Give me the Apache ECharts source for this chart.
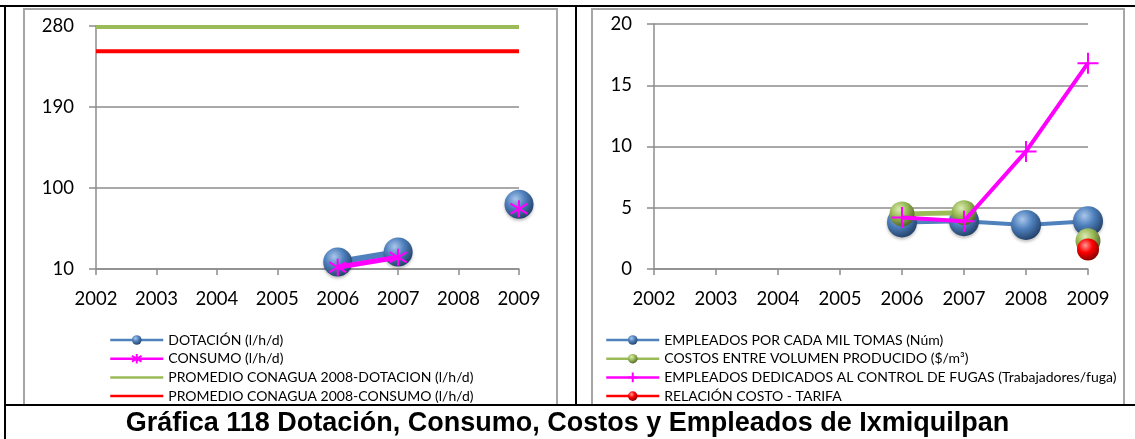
<!DOCTYPE html>
<html>
<head>
<meta charset="utf-8">
<script src="https://cdn.jsdelivr.net/npm/echarts@6/dist/echarts.min.js"></script>
<style>
html,body{margin:0;padding:0;background:#fff;}
#c{width:1135px;height:439px;}
</style>
</head>
<body>
<div id="c"></div>
<script>
// ---- data ----
const years = ['2002','2003','2004','2005','2006','2007','2008','2009'];
// left chart
const leftTicks = [10, 100, 190, 280];
const dotacion = [null, null, null, null, 17.8, 28.9, null, 82];
const consumo = [null, null, null, null, 12, 23, null, 77];
const promDotacion = [279, 279, 279, 279, 279, 279, 279, 279];
const promConsumo = [252, 252, 252, 252, 252, 252, 252, 252];
// right chart
const rightTicks = [0, 5, 10, 15, 20];
const empleadosMil = [null, null, null, null, 3.8, 3.9, 3.6, 3.9];
const costosVolumen = [null, null, null, null, 4.5, 4.6, null, 2.3];
const empleadosFugas = [null, null, null, null, 4.2, 3.9, 9.6, 16.8];
const relacionCosto = [null, null, null, null, null, null, null, 1.6];

const names = {
  dot: 'DOTACIÓN (l/h/d)',
  con: 'CONSUMO (l/h/d)',
  pd: 'PROMEDIO CONAGUA 2008-DOTACION (l/h/d)',
  pc: 'PROMEDIO CONAGUA 2008-CONSUMO (l/h/d)',
  em: 'EMPLEADOS POR CADA MIL TOMAS (Núm)',
  cv: 'COSTOS ENTRE VOLUMEN PRODUCIDO ($/m³)',
  ef: 'EMPLEADOS DEDICADOS AL CONTROL DE FUGAS (Trabajadores/fuga)',
  rc: 'RELACIÓN COSTO - TARIFA'
};

const chart = echarts.init(document.getElementById('c'), null, {renderer: 'canvas'});

function sphere(light, mid, dark) {
  return new echarts.graphic.RadialGradient(0.38, 0.32, 0.72, [
    {offset: 0, color: light},
    {offset: 0.45, color: mid},
    {offset: 1, color: dark}
  ]);
}
const blueSphere = sphere('#a9c6ea', '#4f81bd', '#213f66');
const greenSphere = sphere('#dcebb4', '#9bbb59', '#4f6228');
const redSphere = sphere('#ff9a9a', '#ff0000', '#800000');

const asterisk = 'path://M0,-1L0,1M-0.8,-0.6L0.8,0.6M-0.8,0.6L0.8,-0.6';
const plus = 'path://M0,-1L0,1M-1,0L1,0';

const labelFont = 'Lato, "Open Sans", sans-serif';
const gray = '#8c8c8c';

function xAxis(gi) {
  return {
    type: 'category', gridIndex: gi, data: years, boundaryGap: false,
    axisLine: {lineStyle: {color: gray, width: 1.5}},
    axisTick: {show: true, inside: false, length: 6, lineStyle: {color: gray, width: 1.5}},
    axisLabel: {color: '#000', fontSize: 18.5, fontFamily: labelFont, margin: 21},
    splitLine: {show: false}
  };
}
function yAxis(gi, min, max, interval) {
  return {
    type: 'value', gridIndex: gi, min: min, max: max, interval: interval,
    axisLine: {show: true, lineStyle: {color: gray, width: 1.5}},
    axisTick: {show: true, inside: false, length: 7, lineStyle: {color: gray, width: 1.5}},
    axisLabel: {color: '#000', fontSize: 18.5, fontFamily: labelFont, margin: 22},
    splitLine: {show: true, lineStyle: {color: gray, width: 1.5}}
  };
}
function legend(left, items) {
  return {
    orient: 'vertical', left: left, top: 333, padding: 0,
    itemWidth: 53, itemHeight: 12, itemGap: 4.7,
    textStyle: {fontSize: 14, lineHeight: 14, fontFamily: labelFont, color: '#000'},
    lineStyle: {width: 2.5},
    data: items,
    selectedMode: false
  };
}

const option = {
  animation: false,
  backgroundColor: '#fff',
  title: {
    text: 'Gráfica 118 Dotación, Consumo, Costos y Empleados de Ixmiquilpan',
    left: 'center', top: 405,
    textStyle: {fontFamily: '"Liberation Sans", Arial, sans-serif', fontWeight: 'bold', fontSize: 27, color: '#000'}
  },
  grid: [
    {left: 96, right: 616, top: 26, bottom: 170},
    {left: 654, right: 47, top: 24, bottom: 170}
  ],
  xAxis: [xAxis(0), xAxis(1)],
  yAxis: [yAxis(0, leftTicks[0], leftTicks[leftTicks.length - 1], leftTicks[1] - leftTicks[0]),
          yAxis(1, rightTicks[0], rightTicks[rightTicks.length - 1], rightTicks[1] - rightTicks[0])],
  legend: [
    legend(109, [names.dot, names.con,
      {name: names.pd, itemStyle: {opacity: 0}},
      {name: names.pc, itemStyle: {opacity: 0}}]),
    legend(605, [names.em, names.cv, names.ef, names.rc])
  ],
  series: [
    {name: names.pd, type: 'line', xAxisIndex: 0, yAxisIndex: 0, data: promDotacion, symbol: 'none',
     lineStyle: {color: '#9bbb59', width: 4}, itemStyle: {color: '#9bbb59'}, z: 2},
    {name: names.pc, type: 'line', xAxisIndex: 0, yAxisIndex: 0, data: promConsumo, symbol: 'none',
     lineStyle: {color: '#ff0000', width: 4}, itemStyle: {color: '#ff0000'}, z: 2},
    {name: names.dot, type: 'line', xAxisIndex: 0, yAxisIndex: 0, data: dotacion, symbol: 'circle', symbolSize: 29,
     lineStyle: {color: '#4f81bd', width: 6}, itemStyle: {color: blueSphere, shadowColor: 'rgba(0,0,0,0.25)', shadowBlur: 3, shadowOffsetY: 2}, z: 3},
    {name: names.con, type: 'line', xAxisIndex: 0, yAxisIndex: 0, data: consumo, symbol: asterisk, symbolSize: 17,
     lineStyle: {color: '#ff00ff', width: 5}, itemStyle: {color: '#ff00ff', borderColor: '#ff00ff', borderWidth: 2}, z: 4},

    {name: names.em, type: 'line', xAxisIndex: 1, yAxisIndex: 1, data: empleadosMil, symbol: 'circle', symbolSize: 30,
     lineStyle: {color: '#4f81bd', width: 4}, itemStyle: {color: blueSphere, shadowColor: 'rgba(0,0,0,0.25)', shadowBlur: 3, shadowOffsetY: 2}, z: 3},
    {name: names.cv, type: 'line', xAxisIndex: 1, yAxisIndex: 1, data: costosVolumen, symbol: 'circle', symbolSize: 25,
     lineStyle: {color: '#9bbb59', width: 5}, itemStyle: {color: greenSphere}, z: 4},
    {name: names.ef, type: 'line', xAxisIndex: 1, yAxisIndex: 1, data: empleadosFugas, symbol: plus, symbolSize: 21,
     lineStyle: {color: '#ff00ff', width: 4}, itemStyle: {color: '#ff00ff', borderColor: '#ff00ff', borderWidth: 2}, z: 6},
    {name: names.rc, type: 'line', xAxisIndex: 1, yAxisIndex: 1, data: relacionCosto, symbol: 'circle', symbolSize: 22,
     lineStyle: {color: '#ff0000', width: 4}, itemStyle: {color: redSphere}, z: 5}
  ],
  graphic: [
    // gray chart boxes
    {type: 'rect', shape: {x: 24, y: 9, width: 533, height: 396}, style: {fill: 'none', stroke: '#a6a6a6', lineWidth: 2}, z: -1, silent: true},
    {type: 'rect', shape: {x: 592, y: 9, width: 532, height: 396}, style: {fill: 'none', stroke: '#a6a6a6', lineWidth: 2}, z: -1, silent: true},
    // black frame
    {type: 'line', shape: {x1: 0, y1: 6, x2: 1135, y2: 6}, style: {stroke: '#000', lineWidth: 2}, silent: true},
    {type: 'line', shape: {x1: 5, y1: 5, x2: 5, y2: 439}, style: {stroke: '#000', lineWidth: 2}, silent: true},
    {type: 'line', shape: {x1: 576, y1: 5, x2: 576, y2: 405}, style: {stroke: '#000', lineWidth: 2}, silent: true},
    {type: 'line', shape: {x1: 5, y1: 405, x2: 1135, y2: 405}, style: {stroke: '#000', lineWidth: 2}, silent: true}
  ]
};
chart.setOption(option);
</script>
</body>
</html>
